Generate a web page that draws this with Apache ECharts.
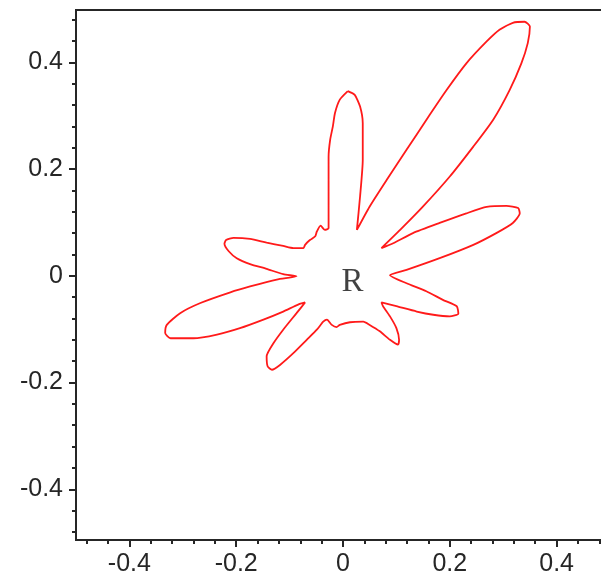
<!DOCTYPE html>
<html>
<head>
<meta charset="utf-8">
<script src="https://cdn.jsdelivr.net/npm/echarts@6/dist/echarts.min.js"></script>
<style>
  html, body { margin: 0; padding: 0; background: #fff; }
  #chart { width: 601px; height: 574px; }
</style>
</head>
<body>
<div id="chart"></div>
<script>
// curve, in order round the outline
var curveX = [
  0.009, -0.006, -0.015, -0.019, -0.024, -0.027, -0.027, -0.027, -0.027, -0.034,
  -0.042, -0.049, -0.052, -0.062, -0.071, -0.074, -0.093, -0.112, -0.143, -0.174,
  -0.205, -0.219, -0.222, -0.214, -0.199, -0.174, -0.143, -0.112, -0.087, -0.124,
  -0.174, -0.211, -0.267, -0.305, -0.330, -0.333, -0.323, -0.280, -0.236, -0.193,
  -0.149, -0.112, -0.084, -0.071, -0.087, -0.112, -0.130, -0.143, -0.141, -0.133,
  -0.118, -0.093, -0.068, -0.049, -0.037, -0.030, -0.021, -0.012, -0.006, 0.013,
  0.038, 0.050, 0.069, 0.088, 0.103, 0.105, 0.100, 0.088, 0.075, 0.072,
  0.100, 0.138, 0.169, 0.200, 0.216, 0.213, 0.187, 0.156, 0.119, 0.088,
  0.119, 0.181, 0.244, 0.287, 0.318, 0.331, 0.328, 0.306, 0.269, 0.231,
  0.181, 0.131, 0.094, 0.072, 0.107, 0.150, 0.200, 0.244, 0.281, 0.312,
  0.334, 0.346, 0.350, 0.340, 0.318, 0.293, 0.269, 0.231, 0.194, 0.156,
  0.119, 0.082, 0.050, 0.026, 0.032, 0.037, 0.037, 0.032, 0.022, 0.009
];
var curveY = [
  0.346, 0.330, 0.305, 0.280, 0.255, 0.223, 0.180, 0.118, 0.089, 0.086,
  0.094, 0.083, 0.074, 0.067, 0.058, 0.052, 0.052, 0.056, 0.062, 0.069,
  0.071, 0.067, 0.060, 0.046, 0.033, 0.022, 0.013, 0.003, -0.001, -0.007,
  -0.020, -0.031, -0.051, -0.070, -0.092, -0.107, -0.117, -0.117, -0.110, -0.098,
  -0.082, -0.067, -0.054, -0.050, -0.070, -0.101, -0.126, -0.151, -0.170, -0.176,
  -0.167, -0.145, -0.120, -0.101, -0.086, -0.082, -0.092, -0.096, -0.092, -0.087,
  -0.086, -0.092, -0.104, -0.120, -0.129, -0.120, -0.098, -0.076, -0.057, -0.050,
  -0.057, -0.067, -0.073, -0.076, -0.071, -0.057, -0.045, -0.029, -0.014, 0.001,
  0.011, 0.033, 0.058, 0.080, 0.099, 0.117, 0.127, 0.131, 0.129, 0.117,
  0.099, 0.080, 0.061, 0.052, 0.086, 0.130, 0.186, 0.242, 0.292, 0.348,
  0.398, 0.436, 0.467, 0.476, 0.474, 0.461, 0.439, 0.398, 0.348, 0.292,
  0.236, 0.180, 0.130, 0.086, 0.149, 0.217, 0.286, 0.317, 0.339, 0.346
];

var majorTicks = [-0.4, -0.2, 0, 0.2, 0.4];
var minorTicks = [-0.48, -0.44, -0.36, -0.32, -0.28, -0.24, -0.16, -0.12, -0.08, -0.04,
                  0.04, 0.08, 0.12, 0.16, 0.24, 0.28, 0.32, 0.36, 0.44, 0.48];
var markText = ['R'];
var markPos = [[0.018, -0.013]];

var chart = echarts.init(document.getElementById('chart'));

var points = [];
for (var i = 0; i < curveX.length; i++) points.push([curveX[i], curveY[i]]);

var axisColor = '#262626';
var labelFont = { color: '#262626', fontSize: 25, fontFamily: 'Liberation Sans, Arial, sans-serif' };

function majorAxis(pos, min, max, margin) {
  return {
    type: 'value', position: pos, min: min, max: max,
    axisLine: { show: true, onZero: false, lineStyle: { color: axisColor, width: 2 } },
    axisTick: { show: true, customValues: majorTicks, length: 7, lineStyle: { color: axisColor, width: 2 } },
    axisLabel: Object.assign({ show: true, customValues: majorTicks, margin: margin }, labelFont),
    splitLine: { show: false }
  };
}
function minorAxis(pos, min, max) {
  return {
    type: 'value', position: pos, min: min, max: max,
    axisLine: { show: false, onZero: false },
    axisTick: { show: true, customValues: minorTicks, length: 4, lineStyle: { color: axisColor, width: 2 } },
    axisLabel: { show: false },
    splitLine: { show: false }
  };
}

chart.setOption({
  animation: false,
  grid: {
    left: 76, width: 534, top: 10, bottom: 34,
    containLabel: false, outerBoundsMode: 'none',
    show: true, borderColor: axisColor, borderWidth: 2, backgroundColor: 'transparent'
  },
  xAxis: [majorAxis('bottom', -0.5, 0.5, 12), minorAxis('bottom', -0.5, 0.5)],
  yAxis: [majorAxis('left', -0.495, 0.498, 13), minorAxis('left', -0.495, 0.498)],
  series: [
    {
      type: 'line',
      data: points,
      showSymbol: false,
      symbol: 'none',
      smooth: 0.2,
      lineStyle: { color: '#ff1a1a', width: 1.8 },
      z: 3
    },
    {
      type: 'scatter',
      data: markPos,
      symbolSize: 0,
      label: {
        show: true, position: 'inside',
        formatter: function () { return markText[0]; },
        color: '#111', fontSize: 33, fontFamily: 'Liberation Serif, Times New Roman, serif'
      },
      z: 4
    }
  ]
});
</script>
</body>
</html>
